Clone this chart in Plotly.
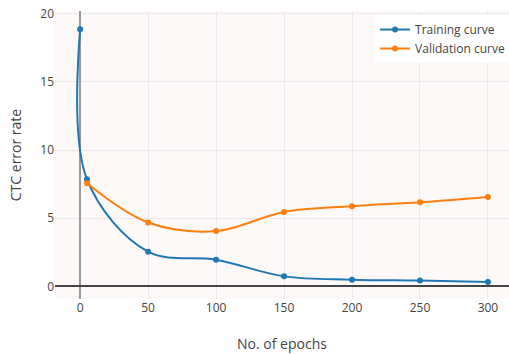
import plotly.graph_objects as go

train_epochs = [0, 5, 50, 100, 150, 200, 250, 300]
train_error = [18.87, 7.86, 2.54, 1.95, 0.73, 0.49, 0.42, 0.32]
val_epochs = [5, 50, 100, 150, 200, 250, 300]
val_error = [7.56, 4.68, 4.05, 5.46, 5.88, 6.17, 6.56]

fig = go.Figure()
fig.add_trace(go.Scatter(x=train_epochs, y=train_error, mode="lines+markers",
                         name="Training curve", line=dict(color="#1f77b4", width=2, shape="spline"),
                         marker=dict(size=6)))
fig.add_trace(go.Scatter(x=val_epochs, y=val_error, mode="lines+markers",
                         name="Validation curve", line=dict(color="#ff7f0e", width=2, shape="spline"),
                         marker=dict(size=6)))

fig.update_layout(
    width=509, height=354,
    margin=dict(l=55, r=0, t=11, b=55, autoexpand=False),
    paper_bgcolor="white",
    plot_bgcolor="#fcf9f8",
    font=dict(family="Open Sans, verdana, arial, sans-serif", color="#444", size=12),
    legend=dict(x=0.705, y=0.986, xanchor="left", yanchor="top", bgcolor="white",
                font=dict(size=12)),
    xaxis=dict(title=dict(text="No. of epochs", font=dict(size=14), standoff=24),
               range=[-18.5, 315.5],
               tickvals=[0, 50, 100, 150, 200, 250, 300], gridcolor="#eae8e8",
               zeroline=True, zerolinecolor="#999", zerolinewidth=2, showline=False,
               automargin=False, ticklabeloverflow="allow"),
    yaxis=dict(title=dict(text="CTC error rate", font=dict(size=14)), range=[-0.93, 20.2],
               tickvals=[0, 5, 10, 15, 20], gridcolor="#eae8e8",
               zeroline=True, zerolinecolor="#444", zerolinewidth=1.5, showline=False,
               automargin=False, ticklabeloverflow="allow"),
)

fig.write_html("out.html", config={"displayModeBar": False},
               post_script="document.body.style.margin='0';")
